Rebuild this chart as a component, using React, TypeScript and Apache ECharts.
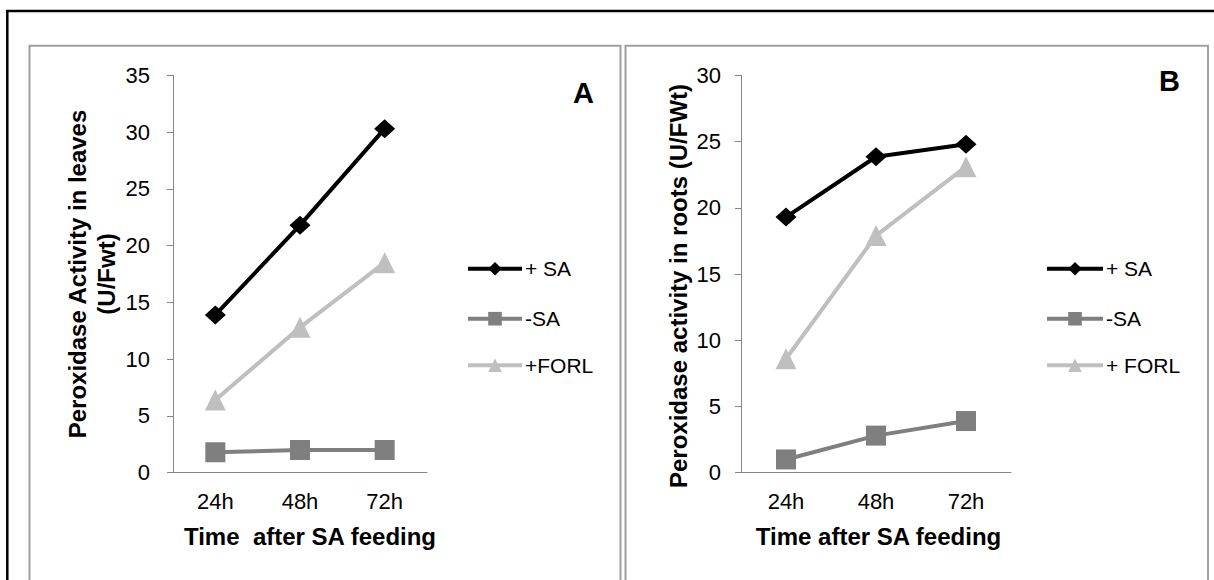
import React, { useEffect, useRef } from "react";
import * as echarts from "echarts";

const categories = ["24h", "48h", "72h"];
const leavesPlusSA = [13.9, 21.8, 30.3];
const leavesMinusSA = [1.8, 2.0, 2.0];
const leavesFORL = [6.4, 12.8, 18.5];
const rootsPlusSA = [19.3, 23.85, 24.8];
const rootsMinusSA = [1.0, 2.8, 3.9];
const rootsFORL = [8.6, 17.9, 23.1];
const leavesAxis = { min: 0, max: 35, interval: 5 };
const rootsAxis = { min: 0, max: 30, interval: 5 };
const legendA = ["+ SA", "-SA", "+FORL"];
const legendB = ["+ SA", "-SA", "+ FORL"];

const FONT = "'Liberation Sans', Arial, sans-serif";
const AXIS_GRAY = "#868686";
const C_SA = "#000000";
const C_MSA = "#7f7f7f";
const C_FORL = "#bfbfbf";

export default function App() {
  const ref = useRef<HTMLDivElement>(null);
  useEffect(() => {
    if (!ref.current) return;
    const chart = echarts.init(ref.current, null, { renderer: "svg" });

    const xAxisBase = (gridIndex: number, name: string, namePad: number[]) => ({
      type: "category",
      gridIndex,
      data: categories,
      boundaryGap: true,
      axisLine: { show: true, lineStyle: { color: AXIS_GRAY, width: 1 } },
      axisTick: { show: false },
      axisLabel: { fontSize: 22, color: "#000", fontFamily: FONT, margin: 18 },
      splitLine: { show: false },
      name,
      nameLocation: "middle",
      nameGap: 49.5,
      nameTextStyle: {
        fontSize: 24,
        fontWeight: "bold",
        color: "#000",
        fontFamily: FONT,
        lineHeight: 29,
        padding: namePad,
      },
    });

    const yAxisBase = (
      gridIndex: number,
      range: { min: number; max: number; interval: number },
      name: string,
      nameGap: number,
      margin: number,
      namePad: number[]
    ) => ({
      type: "value",
      gridIndex,
      min: range.min,
      max: range.max,
      interval: range.interval,
      axisLine: { show: true, lineStyle: { color: AXIS_GRAY, width: 1 } },
      axisTick: { show: true, length: 6, lineStyle: { color: AXIS_GRAY } },
      axisLabel: { fontSize: 22, color: "#000", fontFamily: FONT, margin },
      splitLine: { show: false },
      name,
      nameLocation: "middle",
      nameRotate: 90,
      nameGap,
      nameTextStyle: {
        fontSize: 24,
        fontWeight: "bold",
        color: "#000",
        fontFamily: FONT,
        lineHeight: 29,
        padding: namePad,
      },
    });

    const line = (
      name: string,
      data: number[],
      idx: number,
      color: string,
      symbol: string,
      symbolSize: number | number[]
    ) => ({
      type: "line",
      name,
      data,
      xAxisIndex: idx,
      yAxisIndex: idx,
      symbol,
      symbolSize,
      lineStyle: { color, width: 4 },
      itemStyle: { color },
      showSymbol: true,
    });

    const legendItem = (name: string, left: number, top: number, w: number) => ({
      data: [name],
      left,
      top,
      orient: "vertical",
      padding: 0,
      itemWidth: w,
      itemHeight: 17,
      selectedMode: false,
      lineStyle: { width: 4 },
      textStyle: { fontSize: 21, color: "#000", fontFamily: FONT, lineHeight: 17, padding: [0, 0, 0, -2] },
    });

    const centers = [266.7, 316.7, 363.3];

    chart.setOption({
      animation: false,
      backgroundColor: "#ffffff",
      grid: [
        { left: 173, top: 75.3, width: 254, height: 397.4 },
        { left: 741, top: 75.3, width: 270, height: 397.4 },
      ],
      xAxis: [
        xAxisBase(0, "Time  after SA feeding", [0, 0, 0, 20]),
        xAxisBase(1, "Time after SA feeding", [0, 0, 0, 5]),
      ],
      yAxis: [
        yAxisBase(0, leavesAxis, "Peroxidase Activity in leaves\n(U/Fwt)", 52.5, 23, [0, 0, 0, 0]),
        yAxisBase(1, rootsAxis, "Peroxidase activity in roots (U/FWt)", 48.5, 20, [0, 24, 0, 0]),
      ],
      legend: [
        ...legendA.map((n, i) => legendItem(n, 466, centers[i] - 8.5, 54)),
        ...legendB.map((n, i) => legendItem(n, 1045, centers[i] - 8.5, 56)),
      ],
      graphic: [
        {
          type: "rect",
          shape: { x: 7.3, y: 11, width: 1240, height: 700 },
          style: { fill: "none", stroke: "#000", lineWidth: 2.5 },
          silent: true,
        },
        {
          type: "rect",
          shape: { x: 29.5, y: 45.7, width: 591, height: 700 },
          style: { fill: "none", stroke: "#a0a0a0", lineWidth: 2 },
          silent: true,
        },
        {
          type: "rect",
          shape: { x: 625.5, y: 45.7, width: 582.5, height: 700 },
          style: { fill: "none", stroke: "#a0a0a0", lineWidth: 2 },
          silent: true,
        },
        {
          type: "text",
          x: 583.5,
          y: 93,
          style: {
            text: "A",
            font: "bold 29px 'Liberation Sans', Arial, sans-serif",
            fill: "#000",
            align: "center",
            verticalAlign: "middle",
          },
          silent: true,
        },
        {
          type: "text",
          x: 1169.5,
          y: 80.5,
          style: {
            text: "B",
            font: "bold 29px 'Liberation Sans', Arial, sans-serif",
            fill: "#000",
            align: "center",
            verticalAlign: "middle",
          },
          silent: true,
        },
      ],
      series: [
        line("+ SA", leavesPlusSA, 0, C_SA, "diamond", [21, 19]),
        line("-SA", leavesMinusSA, 0, C_MSA, "rect", 20),
        line("+FORL", leavesFORL, 0, C_FORL, "triangle", 21),
        line("+ SA", rootsPlusSA, 1, C_SA, "diamond", [21, 19]),
        line("-SA", rootsMinusSA, 1, C_MSA, "rect", 20),
        line("+ FORL", rootsFORL, 1, C_FORL, "triangle", 21),
      ],
    });
    return () => chart.dispose();
  }, []);

  return (
    <div
      ref={ref}
      style={{ position: "fixed", left: 0, top: 0, width: 1214, height: 580, background: "#fff" }}
    />
  );
}
